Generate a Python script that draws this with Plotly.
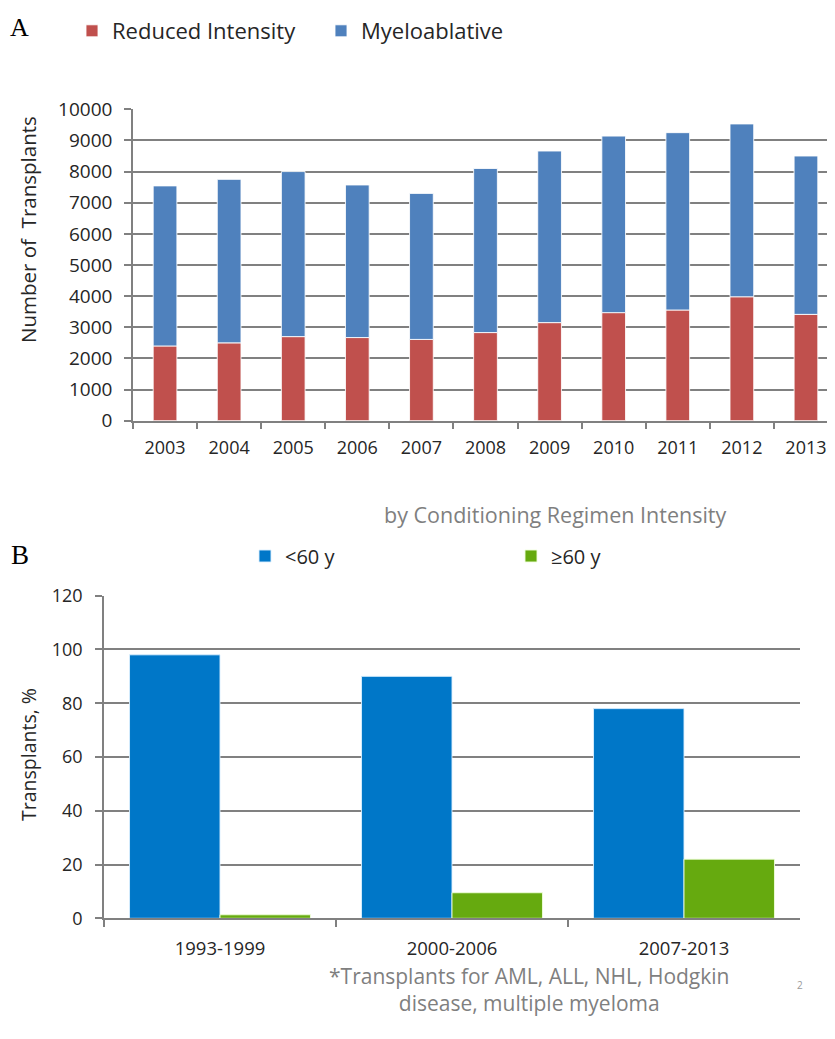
import plotly.graph_objects as go

W, H = 835, 1039
OFF = 8  # page body margin offset

# ---- Panel A data ----
years = ["2003", "2004", "2005", "2006", "2007", "2008", "2009", "2010", "2011", "2012", "2013"]
reduced_intensity = [2400, 2500, 2700, 2670, 2610, 2830, 3150, 3470, 3555, 3980, 3415]
total_transplants = [7540, 7750, 8000, 7570, 7300, 8100, 8660, 9140, 9250, 9530, 8500]
myeloablative = [t - r for t, r in zip(total_transplants, reduced_intensity)]

# ---- Panel B data ----
periods = ["1993-1999", "2000-2006", "2007-2013"]
under60 = [98, 90, 78]
over60 = [1.3, 9.5, 22]

RED = "#C0504D"
BLUE = "#4F81BD"
BLUE_B = "#0077C8"
GREEN_B = "#66AA0F"
GRID = "#808080"
TXT = "#262626"
SANS = "Open Sans, Lato, sans-serif"


def px(x):
    return (x - OFF) / W


def py(y):
    return 1 - (y - OFF) / H


fig = go.Figure()

fig.add_trace(go.Bar(
    x=years, y=reduced_intensity, name="Reduced Intensity",
    marker=dict(color=RED, line=dict(color="rgba(255,255,255,0.85)", width=1)),
    width=0.37, offset=-0.185, xaxis="x", yaxis="y", legend="legend",
))
fig.add_trace(go.Bar(
    x=years, y=myeloablative, base=reduced_intensity, name="Myeloablative",
    marker=dict(color=BLUE, line=dict(color="rgba(255,255,255,0.85)", width=1)),
    width=0.37, offset=-0.185, xaxis="x", yaxis="y", legend="legend",
))

fig.add_trace(go.Bar(
    x=periods, y=under60, name="<60 y",
    marker=dict(color=BLUE_B, line=dict(color="rgba(220,240,255,0.9)", width=1)),
    width=0.39, offset=-0.39, xaxis="x2", yaxis="y2", legend="legend2",
))
fig.add_trace(go.Bar(
    x=periods, y=over60, name="≥60 y",
    marker=dict(color=GREEN_B, line=dict(color="rgba(240,255,220,0.9)", width=1)),
    width=0.39, offset=0.0, xaxis="x2", yaxis="y2", legend="legend2",
))

fig.update_layout(
    width=W, height=H,
    margin=dict(l=0, r=0, t=0, b=0, autoexpand=False),
    paper_bgcolor="white", plot_bgcolor="white",
    barmode="overlay",
    showlegend=True,
    xaxis=dict(
        domain=[px(133), px(838)], anchor="y", type="category",
        range=[-0.5, 10.5], automargin=False,
        showline=True, linecolor=GRID, linewidth=1.5,
        ticks="outside", tickson="boundaries", ticklen=7, tickcolor=GRID, tickwidth=1.5,
        showgrid=False,
        tickfont=dict(family=SANS, size=18, color=TXT),
        ticklabelstandoff=10,
    ),
    yaxis=dict(
        domain=[py(420.7), py(109.3)], anchor="x", automargin=False,
        range=[0, 10000], dtick=1000, tickformat="d",
        showline=True, linecolor=GRID, linewidth=1.5,
        ticks="outside", ticklen=7, tickcolor=GRID, tickwidth=1.5,
        showgrid=True, gridcolor=GRID, gridwidth=1.5, zeroline=False,
        tickfont=dict(family=SANS, size=19, color=TXT),
        ticklabelstandoff=8,
    ),
    xaxis2=dict(
        domain=[px(104), px(800)], anchor="y2", type="category",
        range=[-0.5, 2.5], automargin=False,
        showline=True, linecolor=GRID, linewidth=1.5,
        ticks="outside", tickson="boundaries", ticklen=7, tickcolor=GRID, tickwidth=1.5,
        showgrid=False,
        tickfont=dict(family=SANS, size=18.5, color=TXT),
        ticklabelstandoff=13,
    ),
    yaxis2=dict(
        domain=[py(918.3), py(595.7)], anchor="x2", automargin=False,
        range=[0, 120], dtick=20,
        showline=True, linecolor=GRID, linewidth=1.5,
        ticks="outside", ticklen=7, tickcolor=GRID, tickwidth=1.5,
        showgrid=True, gridcolor=GRID, gridwidth=1.5, zeroline=False,
        tickfont=dict(family=SANS, size=18, color=TXT),
        ticklabelstandoff=9,
    ),
    legend=dict(
        orientation="h", x=px(72), xanchor="left", y=py(31), yanchor="middle",
        font=dict(family=SANS, size=22, color=TXT),
        entrywidth=204, entrywidthmode="pixels",
        bgcolor="rgba(0,0,0,0)", traceorder="normal",
    ),
    legend2=dict(
        orientation="h", x=px(245), xanchor="left", y=py(556), yanchor="middle",
        font=dict(family=SANS, size=20, color=TXT),
        entrywidth=221, entrywidthmode="pixels",
        bgcolor="rgba(0,0,0,0)", traceorder="normal",
    ),
)

annotations = [
    dict(text="A", x=px(8), y=py(27), xanchor="left", yanchor="middle",
         font=dict(family="Liberation Serif, DejaVu Serif, serif", size=26, color="black")),
    dict(text="B", x=px(9), y=py(555), xanchor="left", yanchor="middle",
         font=dict(family="Liberation Serif, DejaVu Serif, serif", size=27, color="black")),
    dict(text="Number of  Transplants", x=px(28), y=py(230), textangle=-90,
         xanchor="center", yanchor="middle",
         font=dict(family=SANS, size=20.5, color=TXT)),
    dict(text="Transplants, %", x=px(28), y=py(755), textangle=-90,
         xanchor="center", yanchor="middle",
         font=dict(family=SANS, size=19.5, color=TXT)),
    dict(text="by Conditioning Regimen Intensity", x=px(555), y=py(514),
         xanchor="center", yanchor="middle",
         font=dict(family=SANS, size=21.5, color="#7f7f7f")),
    dict(text="*Transplants for AML, ALL, NHL, Hodgkin<br>disease, multiple myeloma",
         x=px(529), y=py(989), xanchor="center", yanchor="middle",
         font=dict(family=SANS, size=21, color="#7f7f7f")),
    dict(text="2", x=px(800), y=py(985), xanchor="center", yanchor="middle",
         font=dict(family=SANS, size=10, color="#9a9a9a")),
]
for a in annotations:
    a.update(xref="paper", yref="paper", showarrow=False)
fig.update_layout(annotations=annotations)

fig.write_html("out.html")
